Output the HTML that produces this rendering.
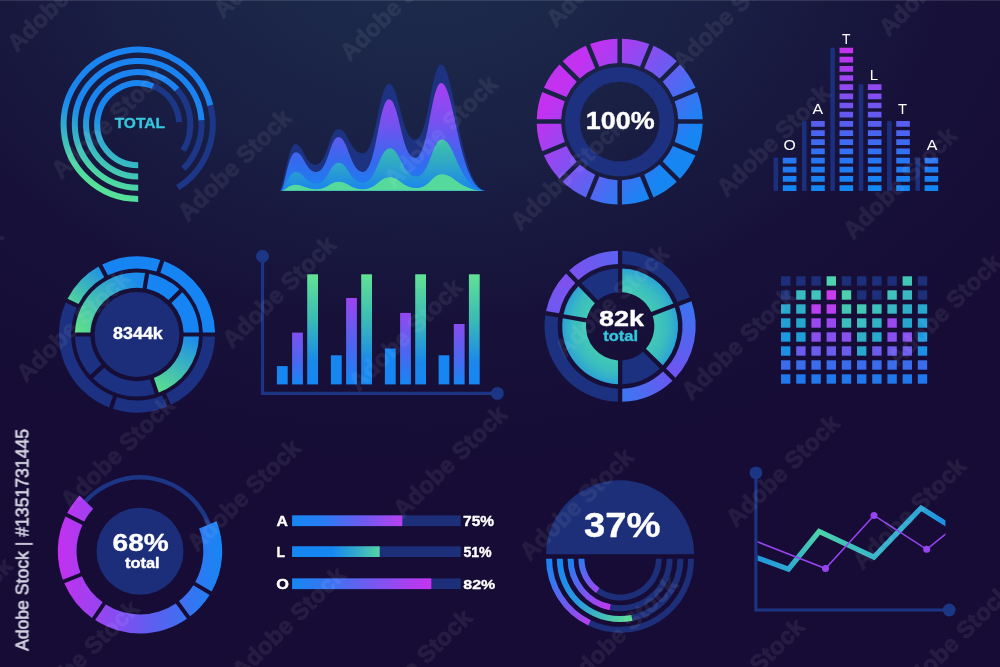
<!DOCTYPE html>
<html lang="en"><head><meta charset="utf-8"><title>Infographic charts</title>
<style>
html,body{margin:0;padding:0;background:#160c35;}
body{width:1000px;height:667px;overflow:hidden;}
svg{display:block;font-family:"Liberation Sans",sans-serif;}
</style></head><body>
<svg width="1000" height="667" viewBox="0 0 1000 667">
<defs>
<radialGradient id="bg" gradientUnits="userSpaceOnUse" cx="420" cy="-60" r="760" gradientTransform="translate(420 -60) scale(1 0.72) translate(-420 60)">
<stop offset="0" stop-color="#1d2d4e"/><stop offset="0.35" stop-color="#1a2246"/><stop offset="0.7" stop-color="#17113a"/><stop offset="1" stop-color="#160c35"/>
</radialGradient>
<linearGradient id="g1" gradientUnits="userSpaceOnUse" x1="168.8" y1="56" x2="107.3" y2="192.5"><stop offset="0" stop-color="#1a82f2"/><stop offset="0.52" stop-color="#1a86f0"/><stop offset="0.6" stop-color="#2092e6"/><stop offset="0.68" stop-color="#2ca4d4"/><stop offset="0.77" stop-color="#38b8c4"/><stop offset="0.9" stop-color="#4cd4a6"/><stop offset="1" stop-color="#56e298"/></linearGradient>
<linearGradient id="g2a" gradientUnits="userSpaceOnUse" x1="0" y1="83" x2="0" y2="191"><stop offset="0" stop-color="#a840f2"/><stop offset="0.35" stop-color="#7a50f0"/><stop offset="0.7" stop-color="#3868ee"/><stop offset="1" stop-color="#1a80f0"/></linearGradient>
<linearGradient id="g2b" gradientUnits="userSpaceOnUse" x1="0" y1="139" x2="0" y2="191"><stop offset="0" stop-color="#3fc4a6"/><stop offset="0.5" stop-color="#2ea6c8"/><stop offset="1" stop-color="#1a84ee"/></linearGradient>
<linearGradient id="g3" gradientUnits="userSpaceOnUse" x1="553.9" y1="71.1" x2="685.5" y2="172.1"><stop offset="0" stop-color="#c232f0"/><stop offset="0.1" stop-color="#c232f0"/><stop offset="0.5" stop-color="#7059f1"/><stop offset="0.9" stop-color="#1686f3"/><stop offset="1" stop-color="#1686f3"/></linearGradient>
<linearGradient id="g4" gradientUnits="userSpaceOnUse" x1="0" y1="47" x2="0" y2="191"><stop offset="0" stop-color="#c830ee"/><stop offset="0.3" stop-color="#8c4cf0"/><stop offset="0.55" stop-color="#5260f0"/><stop offset="0.8" stop-color="#2678f2"/><stop offset="1" stop-color="#1288f4"/></linearGradient>
<linearGradient id="g5a" gradientUnits="userSpaceOnUse" x1="68" y1="310" x2="105" y2="268"><stop offset="0" stop-color="#5ce08c"/><stop offset="1" stop-color="#1c8cec"/></linearGradient>
<linearGradient id="g5b" gradientUnits="userSpaceOnUse" x1="190" y1="335" x2="160" y2="392"><stop offset="0" stop-color="#1c8cec"/><stop offset="1" stop-color="#5ce08c"/></linearGradient>
<linearGradient id="g5c" gradientUnits="userSpaceOnUse" x1="78" y1="330" x2="135" y2="280"><stop offset="0" stop-color="#5ce08c"/><stop offset="1" stop-color="#1c8cec"/></linearGradient>
<linearGradient id="g6c" gradientUnits="objectBoundingBox" x1="0" y1="0" x2="0" y2="1"><stop offset="0" stop-color="#62e294"/><stop offset="0.4" stop-color="#3cbcb4"/><stop offset="0.8" stop-color="#1a88ea"/><stop offset="1" stop-color="#1686f3"/></linearGradient>
<linearGradient id="g6b0" gradientUnits="objectBoundingBox" x1="0" y1="0" x2="0" y2="1"><stop offset="0" stop-color="#7e50f0"/><stop offset="0.55" stop-color="#4c66f0"/><stop offset="1" stop-color="#1686f3"/></linearGradient>
<linearGradient id="g6b1" gradientUnits="objectBoundingBox" x1="0" y1="0" x2="0" y2="1"><stop offset="0" stop-color="#9c44f0"/><stop offset="0.55" stop-color="#4c66f0"/><stop offset="1" stop-color="#1686f3"/></linearGradient>
<linearGradient id="g6b2" gradientUnits="objectBoundingBox" x1="0" y1="0" x2="0" y2="1"><stop offset="0" stop-color="#9248f0"/><stop offset="0.55" stop-color="#4c66f0"/><stop offset="1" stop-color="#1686f3"/></linearGradient>
<linearGradient id="g6b3" gradientUnits="objectBoundingBox" x1="0" y1="0" x2="0" y2="1"><stop offset="0" stop-color="#8a4cf0"/><stop offset="0.55" stop-color="#4c66f0"/><stop offset="1" stop-color="#1686f3"/></linearGradient>
<radialGradient id="g7r" gradientUnits="userSpaceOnUse" cx="620.1" cy="326.3" r="58"><stop offset="0" stop-color="#46ceb2"/><stop offset="0.6" stop-color="#42c8b6"/><stop offset="0.8" stop-color="#3abcc0"/><stop offset="0.92" stop-color="#32aecc"/><stop offset="1" stop-color="#2ca2d6"/></radialGradient>
<linearGradient id="g7o0" gradientUnits="userSpaceOnUse" x1="552.15" y1="314.32" x2="572.17" y2="276.67"><stop offset="0" stop-color="#6e5af0"/><stop offset="1" stop-color="#8050f0"/></linearGradient>
<linearGradient id="g7o1" gradientUnits="userSpaceOnUse" x1="572.17" y1="276.67" x2="620.1" y2="257.3"><stop offset="0" stop-color="#7c52f0"/><stop offset="1" stop-color="#5a62f0"/></linearGradient>
<linearGradient id="g7o2" gradientUnits="userSpaceOnUse" x1="684.52" y1="301.57" x2="669.31" y2="374.66"><stop offset="0" stop-color="#3a74f0"/><stop offset="1" stop-color="#7054f0"/></linearGradient>
<linearGradient id="g7o3" gradientUnits="userSpaceOnUse" x1="669.31" y1="374.66" x2="620.1" y2="395.3"><stop offset="0" stop-color="#6a58f0"/><stop offset="1" stop-color="#3a78f0"/></linearGradient>
<linearGradient id="g9" gradientUnits="userSpaceOnUse" x1="58" y1="0" x2="222" y2="0"><stop offset="0" stop-color="#c530f0"/><stop offset="0.5" stop-color="#6a58f0"/><stop offset="1" stop-color="#1686f3"/></linearGradient>
<linearGradient id="g10a" gradientUnits="userSpaceOnUse" x1="292" y1="0" x2="402.3" y2="0"><stop offset="0" stop-color="#1686f3"/><stop offset="0.3" stop-color="#2a7cf2"/><stop offset="0.62" stop-color="#6a5cf0"/><stop offset="1" stop-color="#b840f0"/></linearGradient>
<linearGradient id="g10b" gradientUnits="userSpaceOnUse" x1="292" y1="0" x2="379.7" y2="0"><stop offset="0" stop-color="#1686f3"/><stop offset="0.45" stop-color="#1686f3"/><stop offset="0.75" stop-color="#34acc8"/><stop offset="1" stop-color="#56d4a4"/></linearGradient>
<linearGradient id="g10c" gradientUnits="userSpaceOnUse" x1="292" y1="0" x2="431.3" y2="0"><stop offset="0" stop-color="#1686f3"/><stop offset="0.3" stop-color="#3e72f0"/><stop offset="0.62" stop-color="#7e54f0"/><stop offset="1" stop-color="#c832f0"/></linearGradient>
<linearGradient id="g11a" gradientUnits="userSpaceOnUse" x1="546" y1="559" x2="590" y2="625"><stop offset="0" stop-color="#1686f3"/><stop offset="0.3" stop-color="#3678f0"/><stop offset="0.65" stop-color="#7458f0"/><stop offset="1" stop-color="#b840f0"/></linearGradient>
<linearGradient id="g11b" gradientUnits="userSpaceOnUse" x1="557" y1="559" x2="632" y2="620"><stop offset="0" stop-color="#1686f3"/><stop offset="0.45" stop-color="#2a98e0"/><stop offset="1" stop-color="#5ce094"/></linearGradient>
<linearGradient id="g11c" gradientUnits="userSpaceOnUse" x1="568" y1="559" x2="610" y2="608"><stop offset="0" stop-color="#1686f3"/><stop offset="0.5" stop-color="#6a5cf0"/><stop offset="1" stop-color="#c038f0"/></linearGradient>
<linearGradient id="g11d" gradientUnits="userSpaceOnUse" x1="578" y1="559" x2="597" y2="591"><stop offset="0" stop-color="#2a7cf2"/><stop offset="1" stop-color="#9a48f0"/></linearGradient>
<linearGradient id="g12" gradientUnits="userSpaceOnUse" x1="758" y1="0" x2="946" y2="0"><stop offset="0" stop-color="#2298de"/><stop offset="0.16" stop-color="#2ea8d0"/><stop offset="0.32" stop-color="#4cd2aa"/><stop offset="0.62" stop-color="#34b4c8"/><stop offset="0.87" stop-color="#2ca4d6"/><stop offset="1" stop-color="#1c8cea"/></linearGradient>
</defs>
<rect width="1000" height="667" fill="url(#bg)"/>
<rect width="1000" height="1" fill="#fff" fill-opacity="0.12"/>
<g fill="none" stroke-width="6">
<path d="M210.36 105.37A74.6 74.6 0 0 1 177.73 187.56" stroke="#1c3787"/>
<path d="M138.2 198.9A74.6 74.6 0 1 1 210.36 105.37" stroke="url(#g1)"/>
<path d="M201.47 120.21A63.4 63.4 0 0 1 183.42 168.74" stroke="#1c3787"/>
<path d="M138.2 187.7A63.4 63.4 0 1 1 201.47 120.21" stroke="url(#g1)"/>
<path d="M176.99 89.37A52.2 52.2 0 0 1 183.41 150.4" stroke="#1c3787"/>
<path d="M138.2 176.5A52.2 52.2 0 1 1 176.99 89.37" stroke="url(#g1)"/>
<path d="M152.89 86.02A41 41 0 0 1 179.14 122.15" stroke="#1c3787"/>
<path d="M138.2 165.3A41 41 0 1 1 152.89 86.02" stroke="url(#g1)"/>
</g>
<text transform="translate(114.64 128.25) scale(1.0210 1)" font-size="15.21" font-weight="bold" fill="#36c6dc" stroke="#36c6dc" stroke-width="0.35" stroke-linejoin="round">TOTAL</text>
<path d="M279.6 190.7C283.6 190.7 287.6 144.1 295.6 144.1C303.28 144.1 305.06 164.8 315.3 164.8C327.36 164.8 329.45 129 338.5 129C348.06 129 350.26 153.4 363 153.4C376.52 153.4 378.86 83.7 389 83.7C399.22 83.7 401.58 139.5 415.2 139.5C428.72 139.5 431.06 64.4 441.2 64.4C454.94 64.4 459.52 190.7 487 190.7Z" fill="#1d3280"/>
<path d="M280.6 190.7C284.35 190.7 288.1 152.2 295.6 152.2C303.75 152.2 305.63 172 316.5 172C327.94 172 329.92 137.1 338.5 137.1C348.06 137.1 350.26 172 363 172C376.52 172 378.86 99.3 389 99.3C399.22 99.3 401.58 158 415.2 158C428.72 158 431.06 83 441.2 83C454.64 83 459.12 190.7 486 190.7Z" fill="url(#g2a)"/>
<path d="M281.1 190.7C284.73 190.7 288.35 172 295.6 172C303.75 172 305.63 183.6 316.5 183.6C327.94 183.6 329.92 162.7 338.5 162.7C348.06 162.7 350.26 182.9 363 182.9C376.88 182.9 379.29 148.3 389.7 148.3C400.11 148.3 402.52 176.6 416.4 176.6C429.71 176.6 432.02 139.5 442 139.5C455.05 139.5 459.4 190.7 485.5 190.7Z" fill="url(#g2b)"/>
<path d="M281.6 190.7C285.1 190.7 288.6 184.8 295.6 184.8C303.75 184.8 305.63 189.2 316.5 189.2C327.94 189.2 329.92 181.7 338.5 181.7C348.06 181.7 350.26 189.2 363 189.2C376.88 189.2 379.29 177.3 389.7 177.3C400.11 177.3 402.52 188.1 416.4 188.1C429.71 188.1 432.02 174.3 442 174.3C454.9 174.3 459.2 190.7 485 190.7Z" fill="#56da9c"/>
<path d="M621.95 38.63A83 83 0 0 1 649.37 44.09L640.03 66.64A58.6 58.6 0 0 0 621.95 63.04ZM653.53 45.81A83 83 0 0 1 676.78 61.34L659.51 78.6A58.6 58.6 0 0 0 644.19 68.36ZM679.96 64.52A83 83 0 0 1 695.49 87.77L672.94 97.11A58.6 58.6 0 0 0 662.7 81.79ZM697.21 91.93A83 83 0 0 1 702.67 119.35L678.26 119.35A58.6 58.6 0 0 0 674.66 101.27ZM702.67 123.85A83 83 0 0 1 697.21 151.27L674.66 141.93A58.6 58.6 0 0 0 678.26 123.85ZM695.49 155.43A83 83 0 0 1 679.96 178.68L662.7 161.41A58.6 58.6 0 0 0 672.94 146.09ZM676.78 181.86A83 83 0 0 1 653.53 197.39L644.19 174.84A58.6 58.6 0 0 0 659.51 164.6ZM649.37 199.11A83 83 0 0 1 621.95 204.57L621.95 180.16A58.6 58.6 0 0 0 640.03 176.56ZM617.45 204.57A83 83 0 0 1 590.03 199.11L599.37 176.56A58.6 58.6 0 0 0 617.45 180.16ZM585.87 197.39A83 83 0 0 1 562.62 181.86L579.89 164.6A58.6 58.6 0 0 0 595.21 174.84ZM559.44 178.68A83 83 0 0 1 543.91 155.43L566.46 146.09A58.6 58.6 0 0 0 576.7 161.41ZM542.19 151.27A83 83 0 0 1 536.73 123.85L561.14 123.85A58.6 58.6 0 0 0 564.74 141.93ZM536.73 119.35A83 83 0 0 1 542.19 91.93L564.74 101.27A58.6 58.6 0 0 0 561.14 119.35ZM543.91 87.77A83 83 0 0 1 559.44 64.52L576.7 81.79A58.6 58.6 0 0 0 566.46 97.11ZM562.62 61.34A83 83 0 0 1 585.87 45.81L595.21 68.36A58.6 58.6 0 0 0 579.89 78.6ZM590.03 44.09A83 83 0 0 1 617.45 38.63L617.45 63.04A58.6 58.6 0 0 0 599.37 66.64Z" fill="url(#g3)"/>
<circle cx="619.7" cy="121.6" r="47.2" fill="none" stroke="#1d3180" stroke-width="14.8"/>
<text transform="translate(585.85 128.95) scale(1.0867 1)" font-size="24.79" font-weight="bold" fill="#fff" stroke="#fff" stroke-width="0.35" stroke-linejoin="round">100%</text>
<rect x="773.6" y="157.69" width="4.6" height="33.21" fill="#1c2f7c"/>
<text transform="translate(783.59 149.75) scale(1.0561 1)" font-size="14.93" font-weight="normal" fill="#fff">O</text>
<rect x="801.96" y="121.01" width="4.6" height="69.89" fill="#1c2f7c"/>
<text transform="translate(812.62 113.6) scale(1.0356 1)" font-size="15.36" font-weight="normal" fill="#fff">A</text>
<rect x="830.32" y="47.65" width="4.6" height="143.25" fill="#1c2f7c"/>
<text transform="translate(842.02 43.7) scale(0.9108 1)" font-size="15.22" font-weight="normal" fill="#fff">T</text>
<rect x="858.68" y="84.33" width="4.6" height="106.57" fill="#1c2f7c"/>
<text transform="translate(869.8 79.8) scale(0.9894 1)" font-size="15.22" font-weight="normal" fill="#fff">L</text>
<rect x="887.04" y="121.01" width="4.6" height="69.89" fill="#1c2f7c"/>
<text transform="translate(898.01 113.7) scale(0.9684 1)" font-size="15.22" font-weight="normal" fill="#fff">T</text>
<rect x="915.4" y="157.69" width="4.6" height="33.21" fill="#1c2f7c"/>
<text transform="translate(926.72 149.7) scale(1.0762 1)" font-size="14.78" font-weight="normal" fill="#fff">A</text>
<path d="M782.8 185.2h13.6v5.7h-13.6zM782.8 176.03h13.6v5.7h-13.6zM782.8 166.86h13.6v5.7h-13.6zM782.8 157.69h13.6v5.7h-13.6zM811.16 185.2h13.6v5.7h-13.6zM811.16 176.03h13.6v5.7h-13.6zM811.16 166.86h13.6v5.7h-13.6zM811.16 157.69h13.6v5.7h-13.6zM811.16 148.52h13.6v5.7h-13.6zM811.16 139.35h13.6v5.7h-13.6zM811.16 130.18h13.6v5.7h-13.6zM811.16 121.01h13.6v5.7h-13.6zM839.52 185.2h13.6v5.7h-13.6zM839.52 176.03h13.6v5.7h-13.6zM839.52 166.86h13.6v5.7h-13.6zM839.52 157.69h13.6v5.7h-13.6zM839.52 148.52h13.6v5.7h-13.6zM839.52 139.35h13.6v5.7h-13.6zM839.52 130.18h13.6v5.7h-13.6zM839.52 121.01h13.6v5.7h-13.6zM839.52 111.84h13.6v5.7h-13.6zM839.52 102.67h13.6v5.7h-13.6zM839.52 93.5h13.6v5.7h-13.6zM839.52 84.33h13.6v5.7h-13.6zM839.52 75.16h13.6v5.7h-13.6zM839.52 65.99h13.6v5.7h-13.6zM839.52 56.82h13.6v5.7h-13.6zM839.52 47.65h13.6v5.7h-13.6zM867.88 185.2h13.6v5.7h-13.6zM867.88 176.03h13.6v5.7h-13.6zM867.88 166.86h13.6v5.7h-13.6zM867.88 157.69h13.6v5.7h-13.6zM867.88 148.52h13.6v5.7h-13.6zM867.88 139.35h13.6v5.7h-13.6zM867.88 130.18h13.6v5.7h-13.6zM867.88 121.01h13.6v5.7h-13.6zM867.88 111.84h13.6v5.7h-13.6zM867.88 102.67h13.6v5.7h-13.6zM867.88 93.5h13.6v5.7h-13.6zM867.88 84.33h13.6v5.7h-13.6zM896.24 185.2h13.6v5.7h-13.6zM896.24 176.03h13.6v5.7h-13.6zM896.24 166.86h13.6v5.7h-13.6zM896.24 157.69h13.6v5.7h-13.6zM896.24 148.52h13.6v5.7h-13.6zM896.24 139.35h13.6v5.7h-13.6zM896.24 130.18h13.6v5.7h-13.6zM896.24 121.01h13.6v5.7h-13.6zM924.6 185.2h13.6v5.7h-13.6zM924.6 176.03h13.6v5.7h-13.6zM924.6 166.86h13.6v5.7h-13.6zM924.6 157.69h13.6v5.7h-13.6z" fill="url(#g4)"/>
<circle cx="137" cy="334.5" r="42.4" fill="#1c2e7a"/>
<path d="M67.56 298.75A78.1 78.1 0 0 1 98.49 266.55L104.22 277.33A65.9 65.9 0 0 0 78.56 304.04Z" fill="url(#g5a)"/>
<path d="M102.2 264.58A78.1 78.1 0 0 1 160.3 259.96L156.35 271.5A65.9 65.9 0 0 0 107.93 275.36ZM164.28 261.32A78.1 78.1 0 0 1 215.07 332.4L202.87 332.4A65.9 65.9 0 0 0 160.32 272.86Z" fill="#1784f4"/>
<path d="M215.07 336.6A78.1 78.1 0 0 1 170.92 404.85L165.92 393.72A65.9 65.9 0 0 0 202.87 336.6ZM167.09 406.57A78.1 78.1 0 0 1 112.92 408.79L116.99 397.29A65.9 65.9 0 0 0 162.08 395.44ZM108.96 407.39A78.1 78.1 0 0 1 65.74 302.54L76.74 307.83A65.9 65.9 0 0 0 113.03 395.89Z" fill="#1c3182"/>
<path d="M74.99 332.4A62.05 62.05 0 0 1 145.06 272.98L142.54 288.18A46.65 46.65 0 0 0 90.4 332.4Z" fill="url(#g5c)"/>
<path d="M149.2 273.66A62.05 62.05 0 0 1 179.37 289.16L168.47 300.06A46.65 46.65 0 0 0 146.68 288.87ZM182.34 292.13A62.05 62.05 0 0 1 199.01 332.4L183.6 332.4A46.65 46.65 0 0 0 171.44 303.03Z" fill="#1784f4"/>
<path d="M199.01 336.6A62.05 62.05 0 0 1 158.77 392.61L153.85 378A46.65 46.65 0 0 0 183.6 336.6Z" fill="url(#g5b)"/>
<path d="M154.79 393.95A62.05 62.05 0 0 1 92.92 378.18L104.23 367.7A46.65 46.65 0 0 0 149.87 379.34ZM90.07 375.09A62.05 62.05 0 0 1 74.99 336.6L90.4 336.6A46.65 46.65 0 0 0 101.38 364.62Z" fill="#1c3182"/>
<text transform="translate(113.06 338.64) scale(1.1336 1)" font-size="15.78" font-weight="bold" fill="#fff" stroke="#fff" stroke-width="0.35" stroke-linejoin="round">8344k</text>
<path d="M262.5 256V393.4H497" fill="none" stroke="#1c3484" stroke-width="3.2"/>
<circle cx="262.5" cy="256.2" r="6.4" fill="#1c3686"/><circle cx="497.4" cy="393.4" r="6.4" fill="#1c3686"/>
<rect x="276.9" y="366.1" width="10.8" height="18.3" fill="#1686f3"/>
<rect x="292.1" y="332.6" width="10.8" height="51.8" fill="url(#g6b0)"/>
<rect x="307.2" y="274.3" width="10.8" height="110.1" fill="url(#g6c)"/>
<rect x="330.9" y="355.3" width="10.8" height="29.1" fill="#1686f3"/>
<rect x="346.1" y="298" width="10.8" height="86.4" fill="url(#g6b1)"/>
<rect x="361.2" y="274.3" width="10.8" height="110.1" fill="url(#g6c)"/>
<rect x="384.9" y="348.5" width="10.8" height="35.9" fill="#1686f3"/>
<rect x="400.1" y="312.9" width="10.8" height="71.5" fill="url(#g6b2)"/>
<rect x="415.2" y="274.3" width="10.8" height="110.1" fill="url(#g6c)"/>
<rect x="438.6" y="355.3" width="10.8" height="29.1" fill="#1686f3"/>
<rect x="453.8" y="324" width="10.8" height="60.4" fill="url(#g6b3)"/>
<rect x="468.9" y="274.3" width="10.8" height="110.1" fill="url(#g6c)"/>
<path d="M546.05 311.06A75.6 75.6 0 0 1 566.06 273.43L575.23 282.93A62.4 62.4 0 0 0 559.06 313.35Z" fill="url(#g7o0)"/>
<path d="M569.15 270.45A75.6 75.6 0 0 1 617.95 250.73L617.95 263.94A62.4 62.4 0 0 0 578.33 279.95Z" fill="url(#g7o1)"/>
<path d="M691.42 301.23A75.6 75.6 0 0 1 675.51 377.73L666.09 368.48A62.4 62.4 0 0 0 679.09 305.96Z" fill="url(#g7o2)"/>
<path d="M672.49 380.8A75.6 75.6 0 0 1 622.25 401.87L622.25 388.66A62.4 62.4 0 0 0 663.07 371.54Z" fill="url(#g7o3)"/>
<path d="M622.25 250.73A75.6 75.6 0 0 1 689.88 297.21L677.55 301.94A62.4 62.4 0 0 0 622.25 263.94ZM617.95 401.87A75.6 75.6 0 0 1 545.31 315.29L558.31 317.59A62.4 62.4 0 0 0 617.95 388.66Z" fill="#1c3180"/>
<path d="M622.25 268.44A57.9 57.9 0 0 1 673.35 303.56L651.19 312.06A34.2 34.2 0 0 0 622.25 292.17ZM674.89 307.57A57.9 57.9 0 0 1 662.88 365.32L645.95 348.69A34.2 34.2 0 0 0 652.74 316.08ZM617.95 384.16A57.9 57.9 0 0 1 562.75 318.37L586.11 322.49A34.2 34.2 0 0 0 617.95 360.43ZM563.49 314.14A57.9 57.9 0 0 1 578.36 286.17L594.84 303.24A34.2 34.2 0 0 0 586.86 318.26Z" fill="url(#g7r)"/>
<path d="M659.86 368.39A57.9 57.9 0 0 1 622.25 384.16L622.25 360.43A34.2 34.2 0 0 0 642.94 351.76ZM581.45 283.19A57.9 57.9 0 0 1 617.95 268.44L617.95 292.17A34.2 34.2 0 0 0 597.94 300.25Z" fill="#1c3180"/>
<text transform="translate(598.94 326.02) scale(1.1769 1)" font-size="22.93" font-weight="bold" fill="#fff" stroke="#fff" stroke-width="0.35" stroke-linejoin="round">82k</text>
<text transform="translate(603.34 341.46) scale(1.1856 1)" font-size="13.88" font-weight="bold" fill="#36c6dc" stroke="#36c6dc" stroke-width="0.35" stroke-linejoin="round">total</text>
<rect x="781" y="276.3" width="9.4" height="9.4" fill="#1c2f78"/>
<rect x="796.2" y="276.3" width="9.4" height="9.4" fill="#1c2f78"/>
<rect x="811.4" y="276.3" width="9.4" height="9.4" fill="#1c2f78"/>
<rect x="826.6" y="276.3" width="9.4" height="9.4" fill="#4ed2af"/>
<rect x="841.8" y="276.3" width="9.4" height="9.4" fill="#1c2f78"/>
<rect x="857" y="276.3" width="9.4" height="9.4" fill="#1c2f78"/>
<rect x="872.2" y="276.3" width="9.4" height="9.4" fill="#1c2f78"/>
<rect x="887.4" y="276.3" width="9.4" height="9.4" fill="#1c2f78"/>
<rect x="902.6" y="276.3" width="9.4" height="9.4" fill="#42c6b7"/>
<rect x="917.8" y="276.3" width="9.4" height="9.4" fill="#1c2f78"/>
<rect x="781" y="290.3" width="9.4" height="9.4" fill="#1c2f78"/>
<rect x="796.2" y="290.3" width="9.4" height="9.4" fill="#39bac2"/>
<rect x="811.4" y="290.3" width="9.4" height="9.4" fill="#40c3ba"/>
<rect x="826.6" y="290.3" width="9.4" height="9.4" fill="#c83cf0"/>
<rect x="841.8" y="290.3" width="9.4" height="9.4" fill="#4cd0b0"/>
<rect x="857" y="290.3" width="9.4" height="9.4" fill="#1c2f78"/>
<rect x="872.2" y="290.3" width="9.4" height="9.4" fill="#1c2f78"/>
<rect x="887.4" y="290.3" width="9.4" height="9.4" fill="#40c3ba"/>
<rect x="902.6" y="290.3" width="9.4" height="9.4" fill="#39bac2"/>
<rect x="917.8" y="290.3" width="9.4" height="9.4" fill="#1c2f78"/>
<rect x="781" y="304.3" width="9.4" height="9.4" fill="#28a8cc"/>
<rect x="796.2" y="304.3" width="9.4" height="9.4" fill="#2eaec8"/>
<rect x="811.4" y="304.3" width="9.4" height="9.4" fill="#b840f0"/>
<rect x="826.6" y="304.3" width="9.4" height="9.4" fill="#b840f0"/>
<rect x="841.8" y="304.3" width="9.4" height="9.4" fill="#44c8b4"/>
<rect x="857" y="304.3" width="9.4" height="9.4" fill="#44c8b4"/>
<rect x="872.2" y="304.3" width="9.4" height="9.4" fill="#3ec0bd"/>
<rect x="887.4" y="304.3" width="9.4" height="9.4" fill="#36b7c3"/>
<rect x="902.6" y="304.3" width="9.4" height="9.4" fill="#2eaec8"/>
<rect x="917.8" y="304.3" width="9.4" height="9.4" fill="#28a8cc"/>
<rect x="781" y="318.3" width="9.4" height="9.4" fill="#22a0d6"/>
<rect x="796.2" y="318.3" width="9.4" height="9.4" fill="#26a6ce"/>
<rect x="811.4" y="318.3" width="9.4" height="9.4" fill="#9a48f0"/>
<rect x="826.6" y="318.3" width="9.4" height="9.4" fill="#9a48f0"/>
<rect x="841.8" y="318.3" width="9.4" height="9.4" fill="#3cbec0"/>
<rect x="857" y="318.3" width="9.4" height="9.4" fill="#3cbec0"/>
<rect x="872.2" y="318.3" width="9.4" height="9.4" fill="#33b4c4"/>
<rect x="887.4" y="318.3" width="9.4" height="9.4" fill="#9a48f0"/>
<rect x="902.6" y="318.3" width="9.4" height="9.4" fill="#26a6ce"/>
<rect x="917.8" y="318.3" width="9.4" height="9.4" fill="#22a0d6"/>
<rect x="781" y="332.3" width="9.4" height="9.4" fill="#1c98e0"/>
<rect x="796.2" y="332.3" width="9.4" height="9.4" fill="#209ed8"/>
<rect x="811.4" y="332.3" width="9.4" height="9.4" fill="#8850ec"/>
<rect x="826.6" y="332.3" width="9.4" height="9.4" fill="#8850ec"/>
<rect x="841.8" y="332.3" width="9.4" height="9.4" fill="#8850ec"/>
<rect x="857" y="332.3" width="9.4" height="9.4" fill="#30b0c6"/>
<rect x="872.2" y="332.3" width="9.4" height="9.4" fill="#2aaaca"/>
<rect x="887.4" y="332.3" width="9.4" height="9.4" fill="#8850ec"/>
<rect x="902.6" y="332.3" width="9.4" height="9.4" fill="#8850ec"/>
<rect x="917.8" y="332.3" width="9.4" height="9.4" fill="#1c98e0"/>
<rect x="781" y="346.3" width="9.4" height="9.4" fill="#1c90e4"/>
<rect x="796.2" y="346.3" width="9.4" height="9.4" fill="#6a5cec"/>
<rect x="811.4" y="346.3" width="9.4" height="9.4" fill="#6a5cec"/>
<rect x="826.6" y="346.3" width="9.4" height="9.4" fill="#6a5cec"/>
<rect x="841.8" y="346.3" width="9.4" height="9.4" fill="#6a5cec"/>
<rect x="857" y="346.3" width="9.4" height="9.4" fill="#28a8cc"/>
<rect x="872.2" y="346.3" width="9.4" height="9.4" fill="#6a5cec"/>
<rect x="887.4" y="346.3" width="9.4" height="9.4" fill="#6a5cec"/>
<rect x="902.6" y="346.3" width="9.4" height="9.4" fill="#6a5cec"/>
<rect x="917.8" y="346.3" width="9.4" height="9.4" fill="#1c90e4"/>
<rect x="781" y="360.3" width="9.4" height="9.4" fill="#3a6cec"/>
<rect x="796.2" y="360.3" width="9.4" height="9.4" fill="#3a6cec"/>
<rect x="811.4" y="360.3" width="9.4" height="9.4" fill="#3a6cec"/>
<rect x="826.6" y="360.3" width="9.4" height="9.4" fill="#3a6cec"/>
<rect x="841.8" y="360.3" width="9.4" height="9.4" fill="#3a6cec"/>
<rect x="857" y="360.3" width="9.4" height="9.4" fill="#3a6cec"/>
<rect x="872.2" y="360.3" width="9.4" height="9.4" fill="#3a6cec"/>
<rect x="887.4" y="360.3" width="9.4" height="9.4" fill="#3a6cec"/>
<rect x="902.6" y="360.3" width="9.4" height="9.4" fill="#3a6cec"/>
<rect x="917.8" y="360.3" width="9.4" height="9.4" fill="#3a6cec"/>
<rect x="781" y="374.3" width="9.4" height="9.4" fill="#2078ec"/>
<rect x="796.2" y="374.3" width="9.4" height="9.4" fill="#2078ec"/>
<rect x="811.4" y="374.3" width="9.4" height="9.4" fill="#2078ec"/>
<rect x="826.6" y="374.3" width="9.4" height="9.4" fill="#2078ec"/>
<rect x="841.8" y="374.3" width="9.4" height="9.4" fill="#2078ec"/>
<rect x="857" y="374.3" width="9.4" height="9.4" fill="#2078ec"/>
<rect x="872.2" y="374.3" width="9.4" height="9.4" fill="#2078ec"/>
<rect x="887.4" y="374.3" width="9.4" height="9.4" fill="#2078ec"/>
<rect x="902.6" y="374.3" width="9.4" height="9.4" fill="#2078ec"/>
<rect x="917.8" y="374.3" width="9.4" height="9.4" fill="#2078ec"/>
<circle cx="140" cy="551.2" r="43.5" fill="#1c2e7a"/>
<path d="M85.52 501.27A73.9 73.9 0 0 1 208.85 524.36" fill="none" stroke="#1c3584" stroke-width="4.4"/>
<path d="M216.51 521.15A82.2 82.2 0 0 1 211.59 591.6L195.34 581.92A63.3 63.3 0 0 0 199.08 528.48ZM209.59 594.95A82.2 82.2 0 0 1 190.11 616.36L178.94 601.1A63.3 63.3 0 0 0 193.35 585.27ZM186.96 618.67A82.2 82.2 0 0 1 95.18 620.11L105.86 604.51A63.3 63.3 0 0 0 175.79 603.41ZM91.96 617.9A82.2 82.2 0 0 1 64.31 583.26L81.89 576.3A63.3 63.3 0 0 0 102.65 602.3ZM62.88 579.64A82.2 82.2 0 0 1 65.47 516.54L82.42 524.92A63.3 63.3 0 0 0 80.46 572.68ZM67.19 513.04A82.2 82.2 0 0 1 79.53 495.52L93.13 508.65A63.3 63.3 0 0 0 84.14 521.42Z" fill="url(#g9)"/>
<text transform="translate(112.62 550.85) scale(1.1377 1)" font-size="24.65" font-weight="bold" fill="#fff" stroke="#fff" stroke-width="0.35" stroke-linejoin="round">68%</text>
<text transform="translate(124.94 568.16) scale(1.1706 1)" font-size="14.01" font-weight="bold" fill="#fff" stroke="#fff" stroke-width="0.35" stroke-linejoin="round">total</text>
<rect x="292.1" y="515.4" width="168.6" height="10.7" fill="#1c2f78"/>
<rect x="292.1" y="515.4" width="110.2" height="10.7" fill="url(#g10a)"/>
<text transform="translate(276.6 526.1) scale(1.1254 1)" font-size="14.06" font-weight="bold" fill="#fff" stroke="#fff" stroke-width="0.35" stroke-linejoin="round">A</text>
<text transform="translate(463.1 525.96) scale(1.1260 1)" font-size="13.76" font-weight="bold" fill="#fff" stroke="#fff" stroke-width="0.35" stroke-linejoin="round">75%</text>
<rect x="292.1" y="546.3" width="168.6" height="10.7" fill="#1c2f78"/>
<rect x="292.1" y="546.3" width="87.6" height="10.7" fill="url(#g10b)"/>
<text transform="translate(276.59 557) scale(0.9945 1)" font-size="14.06" font-weight="bold" fill="#fff" stroke="#fff" stroke-width="0.35" stroke-linejoin="round">L</text>
<text transform="translate(463.38 556.86) scale(1.0276 1)" font-size="13.76" font-weight="bold" fill="#fff" stroke="#fff" stroke-width="0.35" stroke-linejoin="round">51%</text>
<rect x="292.1" y="578.4" width="168.6" height="10.7" fill="#1c2f78"/>
<rect x="292.1" y="578.4" width="139.2" height="10.7" fill="url(#g10c)"/>
<text transform="translate(276.35 589.06) scale(1.1779 1)" font-size="13.8" font-weight="bold" fill="#fff" stroke="#fff" stroke-width="0.35" stroke-linejoin="round">O</text>
<text transform="translate(463.32 588.96) scale(1.1704 1)" font-size="13.66" font-weight="bold" fill="#fff" stroke="#fff" stroke-width="0.35" stroke-linejoin="round">82%</text>
<path d="M546.1 554.3A74 74 0 0 1 694.1 554.3Z" fill="#1c2f78"/>
<g fill="none" stroke-width="6">
<path d="M691.1 558.8A71 71 0 0 1 589.53 622.88" stroke="#1c2f78"/>
<path d="M589.53 622.88A71 71 0 0 1 549.1 558.8" stroke="url(#g11a)"/>
<path d="M680.4 558.8A60.3 60.3 0 0 1 631.92 617.93" stroke="#1c2f78"/>
<path d="M631.92 617.93A60.3 60.3 0 0 1 559.8 558.8" stroke="url(#g11b)"/>
<path d="M669.6 558.8A49.5 49.5 0 0 1 610.15 607.29" stroke="#1c2f78"/>
<path d="M610.15 607.29A49.5 49.5 0 0 1 570.6 558.8" stroke="url(#g11c)"/>
<path d="M658.8 558.8A38.7 38.7 0 0 1 597.85 590.46" stroke="#1c2f78"/>
<path d="M597.85 590.46A38.7 38.7 0 0 1 581.4 558.8" stroke="url(#g11d)"/>
</g>
<text transform="translate(584.04 536.86) scale(1.1132 1)" font-size="34.37" font-weight="bold" fill="#fff" stroke="#fff" stroke-width="0.35" stroke-linejoin="round">37%</text>
<path d="M755.9 472.8V610H949" fill="none" stroke="#1c3484" stroke-width="3.1"/>
<circle cx="755.9" cy="472.8" r="6.4" fill="#1c3686"/><circle cx="949.2" cy="610" r="6.4" fill="#1c3686"/>
<clipPath id="c12"><rect x="757.6" y="480" width="187.8" height="125"/></clipPath>
<g clip-path="url(#c12)" fill="none">
<path d="M750 555.2L788.5 569.2L819.1 531.5L874 557L921.1 508L960 532.6" stroke="url(#g12)" stroke-width="5.2"/>
<path d="M750 538.9L825.5 568.5L874 515.4L926.7 549.3L960 522.6" stroke="#9644f0" stroke-width="1.5"/>
</g>
<circle cx="825.5" cy="568.5" r="3.5" fill="#9644f0"/>
<circle cx="874" cy="515.4" r="3.5" fill="#9644f0"/>
<circle cx="926.7" cy="549.3" r="3.5" fill="#9644f0"/>
<g font-size="23.6" font-weight="bold" fill="#fff" stroke="#fff" stroke-width="0.9" stroke-linejoin="round" letter-spacing="0.3" opacity="0.068"><text transform="translate(16.79 52.86) rotate(-44.4)">Adobe Stock</text><text transform="translate(349.49 61.86) rotate(-44.4)">Adobe Stock</text><text transform="translate(187.79 222.46) rotate(-44.4)">Adobe Stock</text><text transform="translate(26.09 383.06) rotate(-44.4)">Adobe Stock</text><text transform="translate(682.19 70.86) rotate(-44.4)">Adobe Stock</text><text transform="translate(520.49 231.46) rotate(-44.4)">Adobe Stock</text><text transform="translate(358.79 392.06) rotate(-44.4)">Adobe Stock</text><text transform="translate(197.09 552.66) rotate(-44.4)">Adobe Stock</text><text transform="translate(35.39 713.26) rotate(-44.4)">Adobe Stock</text><text transform="translate(1014.89 79.86) rotate(-44.4)">Adobe Stock</text><text transform="translate(853.19 240.46) rotate(-44.4)">Adobe Stock</text><text transform="translate(691.49 401.06) rotate(-44.4)">Adobe Stock</text><text transform="translate(529.79 561.66) rotate(-44.4)">Adobe Stock</text><text transform="translate(368.09 722.26) rotate(-44.4)">Adobe Stock</text><text transform="translate(862.49 570.66) rotate(-44.4)">Adobe Stock</text><text transform="translate(700.79 731.26) rotate(-44.4)">Adobe Stock</text><text transform="translate(-109.71 10.26) rotate(-44.4)">Adobe Stock</text><text transform="translate(222.99 19.26) rotate(-44.4)">Adobe Stock</text><text transform="translate(61.29 179.86) rotate(-44.4)">Adobe Stock</text><text transform="translate(-100.41 340.46) rotate(-44.4)">Adobe Stock</text><text transform="translate(555.69 28.26) rotate(-44.4)">Adobe Stock</text><text transform="translate(393.99 188.86) rotate(-44.4)">Adobe Stock</text><text transform="translate(232.29 349.46) rotate(-44.4)">Adobe Stock</text><text transform="translate(70.59 510.06) rotate(-44.4)">Adobe Stock</text><text transform="translate(-91.11 670.66) rotate(-44.4)">Adobe Stock</text><text transform="translate(888.39 37.26) rotate(-44.4)">Adobe Stock</text><text transform="translate(726.69 197.86) rotate(-44.4)">Adobe Stock</text><text transform="translate(564.99 358.46) rotate(-44.4)">Adobe Stock</text><text transform="translate(403.29 519.06) rotate(-44.4)">Adobe Stock</text><text transform="translate(241.59 679.66) rotate(-44.4)">Adobe Stock</text><text transform="translate(897.69 367.46) rotate(-44.4)">Adobe Stock</text><text transform="translate(735.99 528.06) rotate(-44.4)">Adobe Stock</text><text transform="translate(574.29 688.66) rotate(-44.4)">Adobe Stock</text><text transform="translate(906.99 697.66) rotate(-44.4)">Adobe Stock</text></g>
<text transform="translate(28.5 651) rotate(-90) scale(0.953 1)" font-size="18.5" fill="#d4d2e2" stroke="#d4d2e2" stroke-width="0.6" stroke-linejoin="round" font-weight="normal">Adobe Stock | #1351731445</text>
</svg>
</body></html>
